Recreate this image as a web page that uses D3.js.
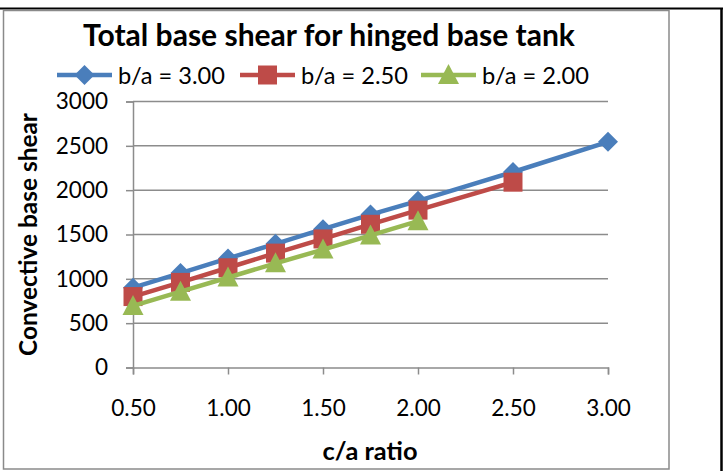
<!DOCTYPE html>
<html>
<head>
<meta charset="utf-8">
<script src="https://cdn.jsdelivr.net/npm/d3@7"></script>
<style>
  html, body { margin: 0; padding: 0; background: #fff; }
  svg { display: block; font-family: Lato, "Liberation Sans", sans-serif; }
</style>
</head>
<body>
<svg id="chart" width="725" height="471"></svg>
<script>
// c/a ratios and convective base shear for each b/a ratio
const xBlue = [0.5, 0.75, 1.0, 1.25, 1.5, 1.75, 2.0, 2.5, 3.0];
const yBlue = [900, 1065, 1230, 1395, 1560, 1725, 1880, 2205, 2545];
const xRed = [0.5, 0.75, 1.0, 1.25, 1.5, 1.75, 2.0, 2.5];
const yRed = [800, 960, 1125, 1290, 1450, 1615, 1775, 2090];
const xGreen = [0.5, 0.75, 1.0, 1.25, 1.5, 1.75, 2.0];
const yGreen = [695, 855, 1015, 1175, 1330, 1490, 1650];
const seriesNames = ["b/a = 3.00", "b/a = 2.50", "b/a = 2.00"];
const xTicks = [0.5, 1.0, 1.5, 2.0, 2.5, 3.0];
const yTicks = [0, 500, 1000, 1500, 2000, 2500, 3000];
const titleText = "Total base shear for hinged base tank";
const xTitle = "c/a ratio";
const yTitle = "Convective base shear";

const colors = ["#4A7EBB", "#BE4B48", "#98B954"];
const shapes = ["diamond", "square", "triangle"];

const series = [
  { name: seriesNames[0], pts: xBlue.map((x, i) => ({ x, y: yBlue[i] })) },
  { name: seriesNames[1], pts: xRed.map((x, i) => ({ x, y: yRed[i] })) },
  { name: seriesNames[2], pts: xGreen.map((x, i) => ({ x, y: yGreen[i] })) }
];

const svg = d3.select("#chart");

// scale a text's font so that it spans the given width
function fitWidth(sel, width) {
  const node = sel.node();
  const fs = parseFloat(sel.attr("font-size"));
  const len = node.getComputedTextLength();
  if (len > 0) sel.attr("font-size", (fs * width / len).toFixed(2));
  return sel;
}

// outer page borders and chart frame
svg.append("line").attr("x1", 0).attr("x2", 723).attr("y1", 8.5).attr("y2", 8.5)
  .attr("stroke", "#000").attr("stroke-width", 2);
svg.append("line").attr("x1", 721.5).attr("x2", 721.5).attr("y1", 8).attr("y2", 471)
  .attr("stroke", "#000").attr("stroke-width", 2.5);
svg.append("rect").attr("x", 3.5).attr("y", 10.5).attr("width", 665.5).attr("height", 458.5)
  .attr("fill", "#fff").attr("stroke", "#8a8a8a").attr("stroke-width", 1.5);

const plot = { left: 133, right: 608, top: 101.5, bottom: 367.5 };
const x = d3.scaleLinear().domain([0.5, 3.0]).range([plot.left, plot.right]);
const y = d3.scaleLinear().domain([0, 3000]).range([plot.bottom, plot.top]);

const gridColor = "#8c8c8c";

// horizontal gridlines
svg.append("g").selectAll("line").data(yTicks.filter(d => d > 0)).join("line")
  .attr("x1", plot.left).attr("x2", plot.right)
  .attr("y1", d => y(d)).attr("y2", d => y(d))
  .attr("stroke", gridColor).attr("stroke-width", 1.5);

// y axis
const yAxis = svg.append("g").attr("transform", `translate(${plot.left},0)`)
  .call(d3.axisLeft(y).tickValues(yTicks).tickSize(7).tickPadding(18).tickFormat(d3.format("d")));
yAxis.select(".domain").attr("stroke", gridColor).attr("stroke-width", 1.5);
yAxis.selectAll(".tick line").attr("stroke", gridColor).attr("stroke-width", 1.5);
yAxis.selectAll(".tick text").attr("font-size", 22.5).attr("fill", "#000")
  .attr("font-family", "Lato, sans-serif");

// x axis
const xAxis = svg.append("g").attr("transform", `translate(0,${plot.bottom})`)
  .call(d3.axisBottom(x).tickValues(xTicks).tickSize(7).tickPadding(26).tickFormat(d3.format(".2f")));
xAxis.select(".domain").attr("stroke", gridColor).attr("stroke-width", 1.5);
xAxis.selectAll(".tick line").attr("stroke", gridColor).attr("stroke-width", 1.5);
xAxis.selectAll(".tick text").attr("font-size", 22.5).attr("fill", "#000")
  .attr("font-family", "Lato, sans-serif");

// marker paths
function markerPath(shape) {
  if (shape === "diamond") return "M0,-10L10,0L0,10L-10,0Z";
  if (shape === "square") return "M-9.5,-9.5H9.5V9.5H-9.5Z";
  return "M0,-11L10.5,9H-10.5Z";
}

const line = d3.line().x(d => x(d.x)).y(d => y(d.y));

series.forEach((s, i) => {
  const g = svg.append("g");
  g.append("path").datum(s.pts).attr("d", line)
    .attr("fill", "none").attr("stroke", colors[i]).attr("stroke-width", 4.5)
    .attr("stroke-linejoin", "round");
  g.selectAll("path.m").data(s.pts).join("path").attr("class", "m")
    .attr("transform", d => `translate(${x(d.x)},${y(d.y)})`)
    .attr("d", markerPath(shapes[i]))
    .attr("fill", colors[i]);
});

// title
fitWidth(svg.append("text").attr("x", 329).attr("y", 46).attr("text-anchor", "middle")
  .attr("font-size", 27).attr("font-weight", "bold").text(titleText), 492);

// legend
const legendX = [57, 240, 421];
series.forEach((s, i) => {
  const g = svg.append("g").attr("transform", `translate(${legendX[i]},75)`);
  g.append("line").attr("x1", 0).attr("x2", 55).attr("y1", 0).attr("y2", 0)
    .attr("stroke", colors[i]).attr("stroke-width", 4.5);
  g.append("path").attr("transform", "translate(27.5,0)").attr("d", markerPath(shapes[i]))
    .attr("fill", colors[i]);
  fitWidth(g.append("text").attr("x", 61).attr("y", 8.5).attr("font-size", 22).text(s.name), 107);
});

// axis titles
fitWidth(svg.append("text").attr("x", 370).attr("y", 460).attr("text-anchor", "middle")
  .attr("font-size", 22).attr("font-weight", "bold").text(xTitle), 95);
fitWidth(svg.append("text").attr("transform", `translate(37,${(plot.top + plot.bottom) / 2}) rotate(-90)`)
  .attr("text-anchor", "middle").attr("font-size", 22).attr("font-weight", "bold").text(yTitle), 243);
</script>
</body>
</html>
